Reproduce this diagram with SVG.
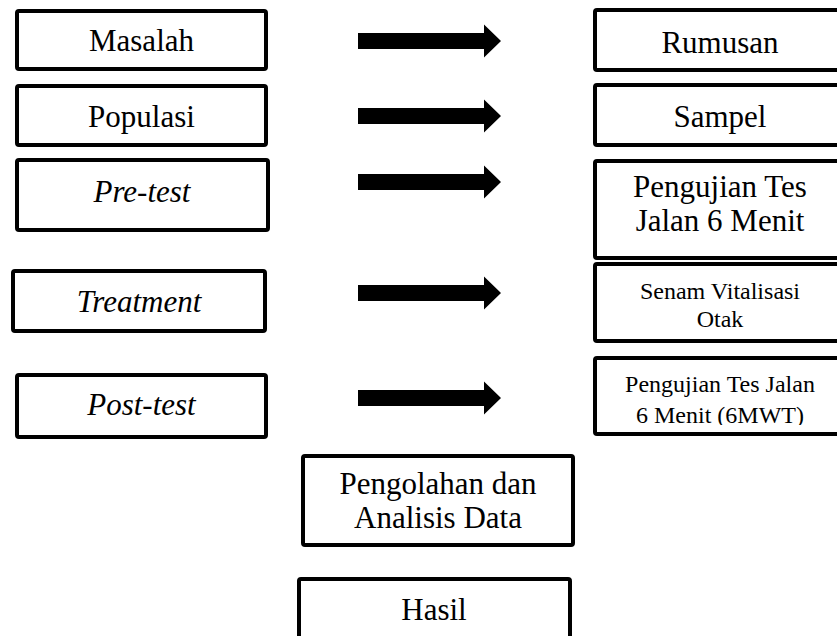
<svg xmlns="http://www.w3.org/2000/svg" width="837" height="636" viewBox="0 0 837 636">
<style>
.box{fill:#fff;stroke:#000;stroke-width:4;}
.t{font-family:"Liberation Serif","Times New Roman",serif;font-size:31px;fill:#000;text-anchor:middle;}
.s{font-size:24px;}
.i{font-style:italic;}
.arr{fill:#000;}
</style>
<defs>
<path id="arrow" d="M0,-8 H126 V-16.5 L143,0 L126,16.5 V8 H0 Z"/>
<clipPath id="clip6"><rect x="593" y="357" width="260" height="68"/></clipPath>
</defs>
<rect width="837" height="636" fill="#fff"/>
<g id="masalah"><rect class="box" x="17" y="11" width="249" height="58" rx="2"/><text class="t" x="141.5" y="51">Masalah</text></g>
<g id="populasi"><rect class="box" x="17" y="86" width="249" height="59" rx="2"/><text class="t" x="141.5" y="127">Populasi</text></g>
<g id="pretest"><rect class="box" x="17" y="160" width="251" height="70" rx="2"/><text class="t i" x="142" y="202">Pre-test</text></g>
<g id="treatment"><rect class="box" x="13" y="271" width="252" height="60" rx="2"/><text class="t i" x="139" y="312">Treatment</text></g>
<g id="posttest"><rect class="box" x="17" y="375" width="249" height="62" rx="2"/><text class="t i" x="141.5" y="415">Post-test</text></g>
<g id="rumusan"><rect class="box" x="595" y="10" width="260" height="60" rx="2"/><text class="t" x="720" y="53">Rumusan</text></g>
<g id="sampel"><rect class="box" x="595" y="85" width="260" height="60" rx="2"/><text class="t" x="720" y="127">Sampel</text></g>
<g id="pengujian1"><rect class="box" x="595" y="161" width="260" height="97" rx="2"/><text class="t" x="720" y="197">Pengujian Tes</text><text class="t" x="720" y="231">Jalan 6 Menit</text></g>
<g id="senam"><rect class="box" x="595" y="264" width="260" height="77" rx="2"/><text class="t s" x="720" y="299">Senam Vitalisasi</text><text class="t s" x="720" y="327">Otak</text></g>
<g id="pengujian2"><rect class="box" x="595" y="358" width="260" height="76" rx="2"/><g clip-path="url(#clip6)"><text class="t s" x="720" y="392">Pengujian Tes Jalan</text><text class="t s" x="720" y="423">6 Menit (6MWT)</text></g></g>
<g id="pengolahan"><rect class="box" x="303" y="456" width="270" height="89" rx="2"/><text class="t" x="438" y="494">Pengolahan dan</text><text class="t" x="438" y="528">Analisis Data</text></g>
<g id="hasil"><rect class="box" x="299" y="579" width="271" height="80" rx="2"/><text class="t" x="434" y="620">Hasil</text></g>
<g id="connectors">
<use href="#arrow" class="arr" x="358" y="41"/>
<use href="#arrow" class="arr" x="358" y="116"/>
<use href="#arrow" class="arr" x="358" y="182"/>
<use href="#arrow" class="arr" x="358" y="293"/>
<use href="#arrow" class="arr" x="358" y="398"/>
</g>
</svg>
